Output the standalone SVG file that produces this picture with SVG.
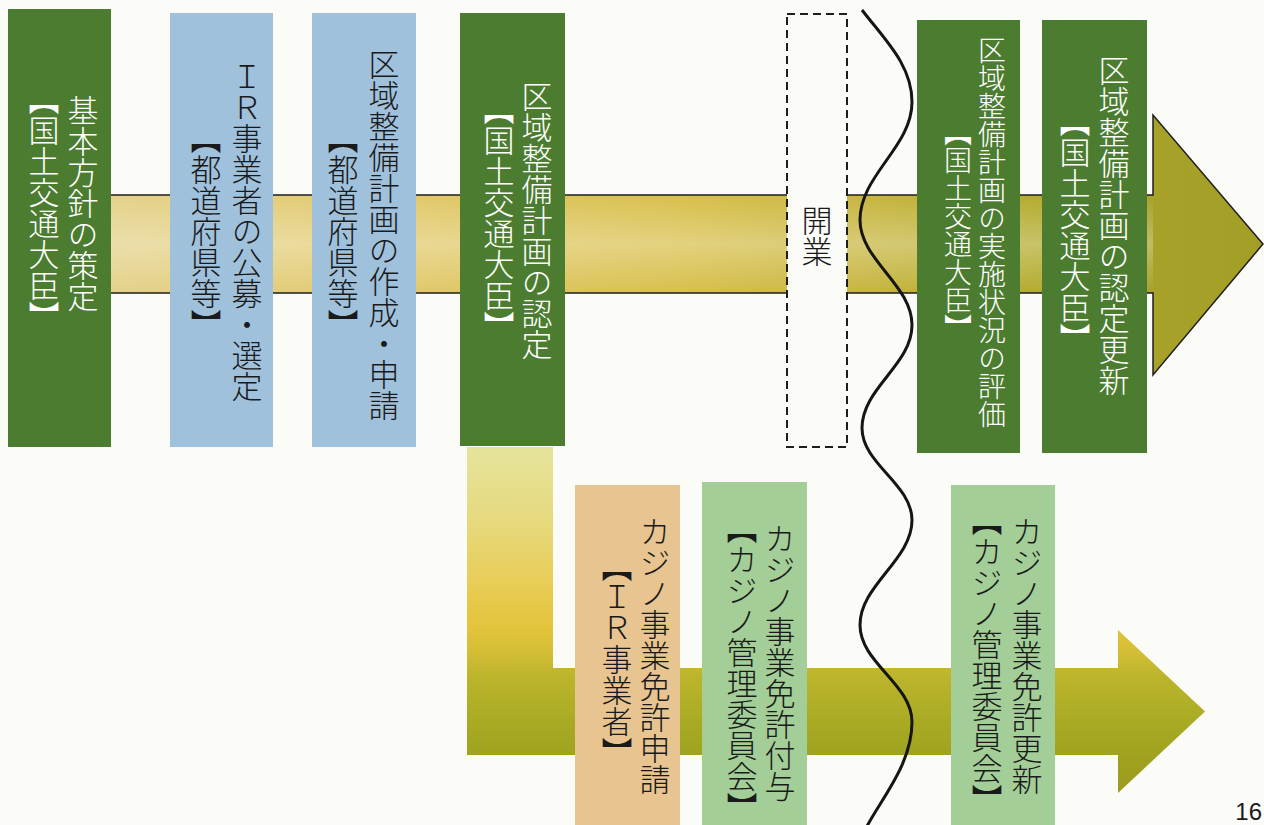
<svg xmlns="http://www.w3.org/2000/svg" width="1264" height="825" viewBox="0 0 1264 825">
<style>
.dg{fill:#4b7c30}
.bl{fill:#a0c1dc}
.tn{fill:#e7c490}
.lg{fill:#a3ce97}
.v{writing-mode:vertical-rl;font-family:"Noto Sans CJK JP","Noto Sans CJK SC",sans-serif;font-size:31px;font-weight:300}
.w{fill:#ffffff}
.k{fill:#1a1a1a}
.hb{font-feature-settings:"vhal" 1}
</style>
<defs>
<linearGradient id="topG" gradientUnits="userSpaceOnUse" x1="100" y1="0" x2="1263" y2="0">
<stop offset="0" stop-color="#e4d28c"/>
<stop offset="0.25" stop-color="#e2ca6e"/>
<stop offset="0.5" stop-color="#d8c04c"/>
<stop offset="0.65" stop-color="#c8b640"/>
<stop offset="0.8" stop-color="#b4ac30"/>
<stop offset="0.9" stop-color="#a8a22a"/>
<stop offset="1" stop-color="#a29e26"/>
</linearGradient>
<linearGradient id="hiG" x1="0" y1="0" x2="0" y2="1">
<stop offset="0" stop-color="#ffffff" stop-opacity="0"/>
<stop offset="0.5" stop-color="#ffffff" stop-opacity="0.28"/>
<stop offset="1" stop-color="#ffffff" stop-opacity="0"/>
</linearGradient>
<linearGradient id="botG" gradientUnits="userSpaceOnUse" x1="0" y1="447" x2="0" y2="793">
<stop offset="0" stop-color="#e6e49c"/>
<stop offset="0.2" stop-color="#e6da80"/>
<stop offset="0.4" stop-color="#e8cc55"/>
<stop offset="0.52" stop-color="#e4c43c"/>
<stop offset="0.6" stop-color="#d2bd34"/>
<stop offset="0.66" stop-color="#bcb52c"/>
<stop offset="0.8" stop-color="#a8aa24"/>
<stop offset="0.9" stop-color="#9ea21e"/>
<stop offset="1" stop-color="#a09a20"/>
</linearGradient>
</defs>
<rect x="0" y="0" width="1264" height="825" fill="#fbfbf8"/>

<g id="connectors">
<path id="top-arrow" d="M100,195 H1153 V115 L1263,244 L1153,375 V293 H100 Z" fill="url(#topG)" stroke="#1e1e1e" stroke-width="1.5" stroke-linejoin="miter"/>
<rect x="100" y="196" width="1053" height="96" fill="url(#hiG)"/>
<path id="bottom-arrow" d="M467,447 H553 V668 H1118 V630 L1205,711.5 L1118,793 V755 H467 Z" fill="url(#botG)"/>
</g>

<g id="n1"><rect class="dg" x="8" y="9" width="103" height="438"/>
<text class="v w" x="83" y="95">基本方針の策定</text>
<text class="v w hb" x="44" y="99">【国土交通大臣】</text></g>

<g id="n2"><rect class="bl" x="170" y="13" width="103" height="434"/>
<text class="v k" x="247" y="61">ＩＲ事業者の公募・選定</text>
<text class="v k hb" x="206" y="138">【都道府県等】</text></g>

<g id="n3"><rect class="bl" x="312" y="13" width="104" height="434"/>
<text class="v k" x="384" y="49">区域整備計画の作成・申請</text>
<text class="v k hb" x="343" y="138">【都道府県等】</text></g>

<g id="n4"><rect class="dg" x="460" y="13" width="105" height="433"/>
<text class="v w" x="537" y="81">区域整備計画の認定</text>
<text class="v w hb" x="499" y="109">【国土交通大臣】</text></g>

<g id="n5"><rect x="787" y="14" width="60" height="433" fill="#fbfbf8" stroke="#1e1e1e" stroke-width="2" stroke-dasharray="8,5"/>
<text class="v k" x="817" y="205">開業</text></g>

<g id="n6"><rect class="dg" x="917" y="20" width="103" height="433"/>
<text class="v w" x="992" y="36" style="font-size:28px">区域整備計画の実施状況の評価</text>
<text class="v w hb" x="958" y="132" style="font-size:28px">【国土交通大臣】</text></g>

<g id="n7"><rect class="dg" x="1042" y="20" width="105" height="433"/>
<text class="v w" x="1114" y="55">区域整備計画の認定更新</text>
<text class="v w hb" x="1075" y="121">【国土交通大臣】</text></g>

<g id="n8"><rect class="tn" x="575" y="485" width="105" height="340"/>
<text class="v k" x="655" y="516">カジノ事業免許申請</text>
<text class="v k hb" x="617" y="566">【ＩＲ事業者】</text></g>

<g id="n9"><rect class="lg" x="702" y="482" width="105" height="343"/>
<text class="v k" x="780" y="523">カジノ事業免許付与</text>
<text class="v k hb" x="742" y="528">【カジノ管理委員会】</text></g>

<g id="n10"><rect class="lg" x="951" y="485" width="104" height="340"/>
<text class="v k" x="1027" y="516">カジノ事業免許更新</text>
<text class="v k hb" x="987" y="520">【カジノ管理委員会】</text></g>

<g id="wave">
<path d="M862,10 C885,40 912,65 912,102 C912,147 860,175 860,220 C860,260 912,285 912,325 C912,365 862,388 862,428 C862,464 912,484 912,520 C912,560 860,585 860,625 C860,663 912,684 912,722 C912,765 880,800 865,830" fill="none" stroke="#151515" stroke-width="3"/>
</g>

<text x="1262" y="820" text-anchor="end" font-family="Liberation Sans, Arial, sans-serif" font-size="24" fill="#1a1a1a">16</text>
</svg>
